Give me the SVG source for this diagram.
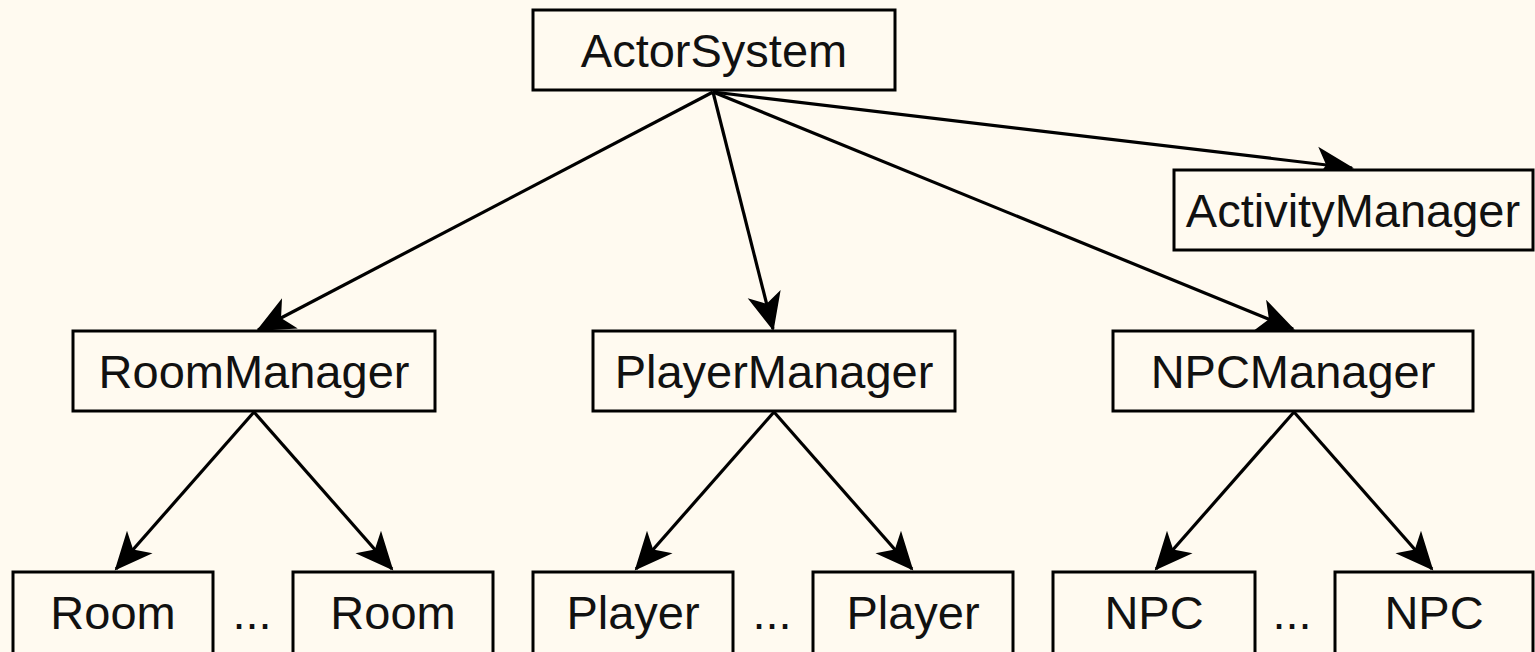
<svg xmlns="http://www.w3.org/2000/svg" width="1535" height="652" viewBox="0 0 1535 652">
<defs>
<style>
.box{fill:#fffaf0;stroke:#000;stroke-width:3}
.lbl{font-family:"Liberation Sans",Arial,sans-serif;font-size:47px;fill:#111;text-anchor:middle}
.edge{stroke:#000;stroke-width:3.2;fill:none;marker-end:url(#arr)}
</style>
<marker id="arr" viewBox="-38 -19 41 38" refX="0" refY="0" markerWidth="41" markerHeight="38" markerUnits="userSpaceOnUse" orient="auto">
<path d="M2,0 L-36,-17 L-26,0 L-36,17 Z" fill="#000"/>
</marker>
</defs>
<rect width="1535" height="652" fill="#fffaf0"/>
<g id="connectors">
<line class="edge" x1="713" y1="92" x2="258" y2="330"/>
<line class="edge" x1="713" y1="92" x2="773" y2="329"/>
<line class="edge" x1="713" y1="92" x2="1293" y2="329"/>
<line class="edge" x1="713" y1="92" x2="1352" y2="168"/>
<line class="edge" x1="254" y1="412" x2="116" y2="569"/>
<line class="edge" x1="254" y1="412" x2="392" y2="569"/>
<line class="edge" x1="774" y1="412" x2="636" y2="569"/>
<line class="edge" x1="774" y1="412" x2="912" y2="569"/>
<line class="edge" x1="1294" y1="412" x2="1156" y2="569"/>
<line class="edge" x1="1294" y1="412" x2="1432" y2="569"/>
</g>
<g id="actorsystem"><rect class="box" x="533" y="10" width="362" height="80"/><text class="lbl" x="714" y="67">ActorSystem</text></g>
<g id="activitymanager"><rect class="box" x="1174" y="170" width="359" height="80"/><text class="lbl" x="1353" y="227">ActivityManager</text></g>
<g id="roommanager"><rect class="box" x="73" y="331" width="362" height="80"/><text class="lbl" x="254" y="388">RoomManager</text></g>
<g id="playermanager"><rect class="box" x="593" y="331" width="362" height="80"/><text class="lbl" x="774" y="388">PlayerManager</text></g>
<g id="npcmanager"><rect class="box" x="1113" y="331" width="360" height="80"/><text class="lbl" x="1293" y="388">NPCManager</text></g>
<g id="room1"><rect class="box" x="13" y="572" width="200" height="84"/><text class="lbl" x="113" y="629">Room</text></g>
<g id="room2"><rect class="box" x="293" y="572" width="200" height="84"/><text class="lbl" x="393" y="629">Room</text></g>
<g id="player1"><rect class="box" x="533" y="572" width="200" height="84"/><text class="lbl" x="633" y="629">Player</text></g>
<g id="player2"><rect class="box" x="813" y="572" width="200" height="84"/><text class="lbl" x="913" y="629">Player</text></g>
<g id="npc1"><rect class="box" x="1053" y="572" width="202" height="84"/><text class="lbl" x="1154" y="629">NPC</text></g>
<g id="npc2"><rect class="box" x="1335" y="572" width="198" height="84"/><text class="lbl" x="1434" y="629">NPC</text></g>
<g id="ellipses">
<text class="lbl" x="252" y="629">...</text>
<text class="lbl" x="772" y="629">...</text>
<text class="lbl" x="1292" y="629">...</text>
</g>
</svg>
